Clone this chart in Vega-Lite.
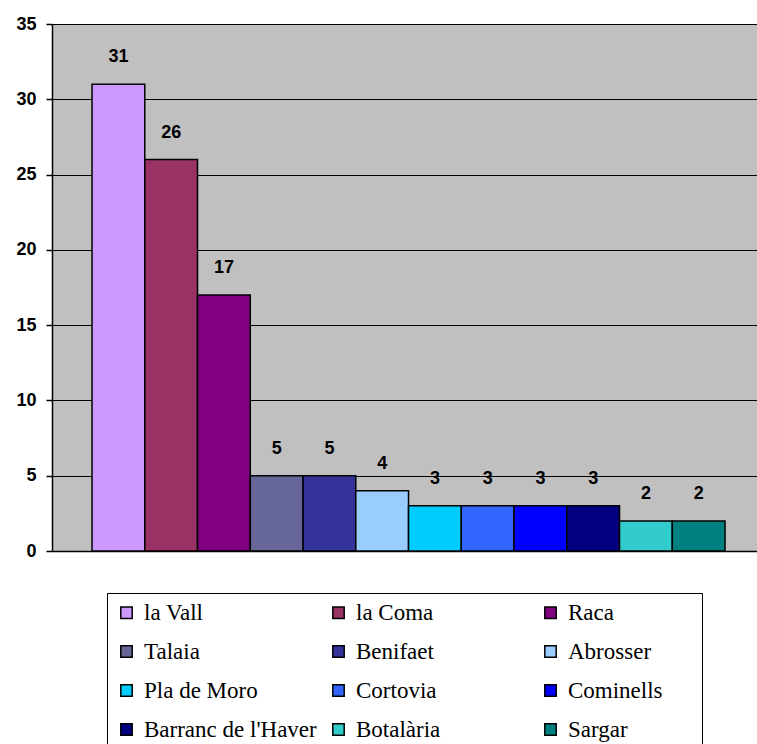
{
  "$schema": "https://vega.github.io/schema/vega-lite/v6.json",
  "autosize": "none",
  "width": 705,
  "height": 527,
  "padding": {"left": 52, "top": 24, "right": 0, "bottom": 193},
  "background": "white",
  "config": {
    "view": {"fill": "#C0C0C0", "stroke": null},
    "axis": {"labelFont": "Liberation Sans", "labelFontWeight": "bold", "labelFontSize": 18, "labelColor": "black"}
  },
  "data": {
    "values": [
      {"lloc": "la Vall", "n": 31},
      {"lloc": "la Coma", "n": 26},
      {"lloc": "Raca", "n": 17},
      {"lloc": "Talaia", "n": 5},
      {"lloc": "Benifaet", "n": 5},
      {"lloc": "Abrosser", "n": 4},
      {"lloc": "Pla de Moro", "n": 3},
      {"lloc": "Cortovia", "n": 3},
      {"lloc": "Cominells", "n": 3},
      {"lloc": "Barranc de l'Haver", "n": 3},
      {"lloc": "Botalària", "n": 2},
      {"lloc": "Sargar", "n": 2}
    ]
  },
  "encoding": {
    "x": {
      "field": "lloc", "type": "nominal", "sort": null,
      "scale": {"paddingInner": 0, "paddingOuter": 0.6825, "align": 0.556},
      "axis": {"labels": false, "ticks": false, "title": null, "domainColor": "black", "domainWidth": 1.5}
    },
    "y": {
      "field": "n", "type": "quantitative",
      "scale": {"domain": [0, 35], "nice": false},
      "axis": {"values": [0, 5, 10, 15, 20, 25, 30, 35], "title": null, "grid": true, "gridColor": "black", "gridOpacity": 1, "gridWidth": 1, "domainColor": "black", "domainWidth": 1.5, "tickColor": "black", "tickSize": 6, "tickWidth": 1.5, "labelPadding": 10}
    }
  },
  "layer": [
    {
      "mark": {"type": "bar", "stroke": "black", "strokeWidth": 1.5},
      "encoding": {
        "color": {
          "field": "lloc", "type": "nominal", "sort": null,
          "scale": {
            "domain": ["la Vall", "la Coma", "Raca", "Talaia", "Benifaet", "Abrosser", "Pla de Moro", "Cortovia", "Cominells", "Barranc de l'Haver", "Botalària", "Sargar"],
            "range": ["#CC99FF", "#993366", "#800080", "#666699", "#333399", "#99CCFF", "#00CCFF", "#3366FF", "#0000FF", "#000080", "#33CCCC", "#008080"]
          },
          "legend": {
            "title": "\u00a0", "titleOrient": "right", "titlePadding": 31, "titleFontSize": 18, "titleColor": "white",
            "orient": "none", "legendX": 55, "legendY": 569,
            "direction": "horizontal", "columns": 3, "gridAlign": "all",
            "symbolType": "square", "symbolSize": 130, "symbolStrokeColor": "black", "symbolStrokeWidth": 1.5, "symbolOpacity": 1,
            "labelFont": "Liberation Serif", "labelFontSize": 23, "labelColor": "black", "labelOffset": 6, "labelLimit": 400,
            "strokeColor": "black", "fillColor": "white", "padding": 8, "rowPadding": 15, "columnPadding": 10
          }
        }
      }
    },
    {
      "mark": {"type": "text", "font": "Liberation Sans", "fontWeight": "bold", "fontSize": 18, "color": "black", "baseline": "middle", "dy": -27},
      "encoding": {"text": {"field": "n", "type": "quantitative"}}
    }
  ]
}
